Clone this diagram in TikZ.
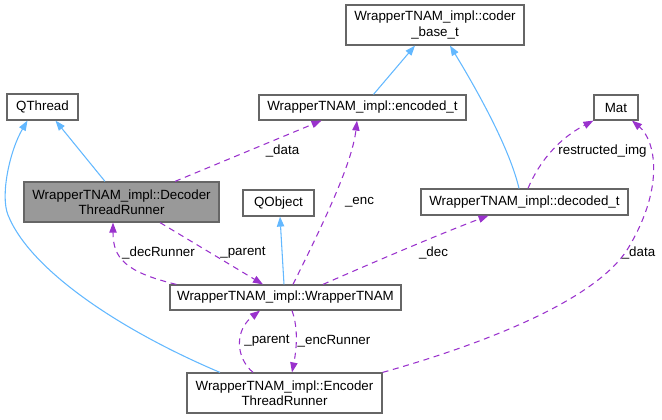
\documentclass[tikz,border=0pt]{standalone}
\usepackage{fontspec}
\setmainfont{Liberation Sans}
\usepackage{tikz}
\usetikzlibrary{calc,arrows.meta}

\definecolor{nodeborder}{HTML}{666666}
\definecolor{nodefocus}{HTML}{999999}
\definecolor{inherit}{HTML}{63B8FF}
\definecolor{usage}{HTML}{9A32CD}

\begin{document}
\begin{tikzpicture}[
    x=0.75pt, y=-0.75pt,
    font=\fontsize{10}{11.5}\selectfont,
    cls/.style={draw=nodeborder, line width=0.9pt, fill=white, inner sep=0pt,
      align=center},
    focus/.style={cls, fill=nodefocus},
    isa/.style={draw=inherit, line width=0.8pt,
      -{Triangle[length=7.5pt,width=5.5pt]}},
    uses/.style={draw=usage, line width=0.8pt, dash pattern=on 4.5pt off 3.5pt,
      -{Triangle[length=7.5pt,width=5.5pt]}},
    lbl/.style={inner sep=0pt},
  ]
  \useasboundingbox (0,0) rectangle (662,419);

  % Top row
  \node[cls, minimum width=133.5pt, minimum height=30pt] (base) at (435,25)
    {WrapperTNAM\_impl::coder\\\_base\_t};
  \node[cls, minimum width=53.25pt, minimum height=19.5pt] (qthread) at (42.5,107)
    {QThread};
  \node[cls, minimum width=155.25pt, minimum height=18.75pt] (enc) at (362.5,107.5)
    {WrapperTNAM\_impl::encoded\_t};
  \node[cls, minimum width=33pt, minimum height=18.75pt] (mat) at (616,107.5)
    {Mat};

  % Middle row
  \node[focus, minimum width=146.25pt, minimum height=30pt] (decrun) at (121.5,202)
    {WrapperTNAM\_impl::Decoder\\ThreadRunner};
  \node[cls, minimum width=53.25pt, minimum height=19.5pt] (qobject) at (278.5,203)
    {QObject};
  \node[cls, minimum width=155.25pt, minimum height=19.5pt] (dec) at (524.5,202)
    {WrapperTNAM\_impl::decoded\_t};

  % Bottom rows
  \node[cls, minimum width=173.25pt, minimum height=18.75pt] (wrap) at (285.5,297.5)
    {WrapperTNAM\_impl::WrapperTNAM};
  \node[cls, minimum width=146.25pt, minimum height=30pt] (encrun) at (284.5,393)
    {WrapperTNAM\_impl::Encoder\\ThreadRunner};

  % Inheritance
  \draw[isa] ($(enc.north)+(11,0)$) -- ($(base.south)+(-20,0)$);
  \draw[isa] ($(dec.north)+(-5.5,0)$) .. controls (510,150) and (480,95) .. ($(base.south)+(15,0)$);
  \draw[isa] ($(decrun.north)+(-16.5,0)$) -- ($(qthread.south)+(13,0)$);
  \draw[isa] ($(encrun.north)+(-64.5,0)$) .. controls (120,330) and (30,270) .. (8,215)
    .. controls (0,195) and (10,150) .. ($(qthread.south)+(-15,0)$);
  \draw[isa] ($(wrap.north)+(-1.5,0)$) -- ($(qobject.south)+(1.5,0)$);

  % Usage
  \draw[uses] ($(decrun.north)+(53.5,0)$) -- ($(enc.south)+(-41,0)$);
  \node[lbl] (l1) at (282.5,151) {\_data};

  \draw[uses] ($(wrap.north)+(7.5,0)$) .. controls (320,230) and (352,165) .. ($(enc.south)+(-5.5,0)$);
  \node[lbl] (l2) at (359.5,202) {\_enc};

  \draw[uses] ($(wrap.north)+(37.5,0)$) .. controls (390,255) and (450,230) .. ($(dec.south)+(-36,0)$);
  \node[lbl] (l3) at (433.5,253) {\_dec};

  \draw[uses] ($(dec.north)+(3.5,0)$) .. controls (540,160) and (560,138) .. (mat.south west);
  \node[lbl] (l4) at (602.5,151) {restructed\_img};

  \draw[uses] (encrun.north east) .. controls (480,345) and (600,300) .. (630,245)
    .. controls (665,185) and (655,140) .. ($(mat.south)+(16,0)$);
  \node[lbl] (l5) at (638.5,253) {\_data};

  \draw[uses] ($(wrap.north west)+(7,0)$) .. controls (125,272) and (113,258) .. ($(decrun.south)+(-8.5,0)$);
  \node[lbl] (l6) at (158.5,253) {\_decRunner};

  \draw[uses] ($(decrun.south)+(38.5,0)$) -- ($(wrap.north)+(-22.5,0)$);
  \node[lbl] (l7) at (243,253) {\_parent};

  \draw[uses] ($(encrun.north)+(-31.5,0)$) .. controls (235,357) and (235,330) .. ($(wrap.south)+(-25.5,0)$);
  \node[lbl] (l8) at (267,341) {\_parent};

  \draw[uses] ($(wrap.south)+(6.5,0)$) .. controls (299,330) and (296,352) .. ($(encrun.north)+(7.5,0)$);
  \node[lbl] (l9) at (334,341) {\_encRunner};
\end{tikzpicture}
\end{document}
